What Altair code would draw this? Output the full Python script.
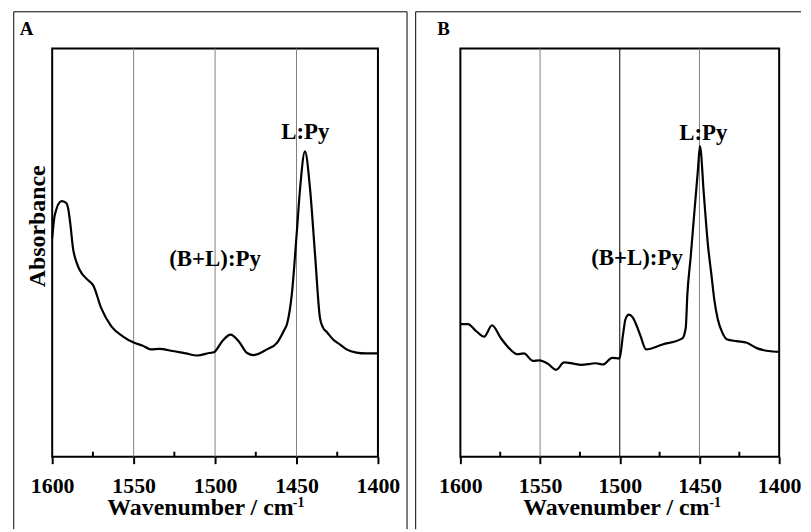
import altair as alt
import pandas as pd

# ---------------- data ----------------
wn_a = [1600, 1598.4, 1594.3, 1591.5, 1590.2, 1588.8, 1587.2, 1585.2, 1583.2, 1577.0,
        1575.0, 1569.9, 1563.8, 1556.7, 1549.6, 1544.4, 1539.4, 1534.3, 1526.1, 1518.0,
        1510.9, 1503.8, 1500.7, 1495.6, 1490.5, 1485.5, 1480.3, 1476.3, 1468.1, 1462.0,
        1458.0, 1455.7, 1452.9, 1449.8, 1447.8, 1444.8, 1441.7, 1438.6, 1435.6, 1433.8,
        1431.3, 1427.5, 1423.4, 1419.3, 1413.2, 1407.5, 1400]
abs_a = [0.535, 0.592, 0.626, 0.622, 0.608, 0.568, 0.510, 0.478, 0.458, 0.429,
         0.421, 0.364, 0.320, 0.295, 0.279, 0.272, 0.263, 0.264, 0.259, 0.253,
         0.248, 0.254, 0.256, 0.283, 0.299, 0.283, 0.254, 0.249, 0.263, 0.279,
         0.307, 0.327, 0.397, 0.551, 0.657, 0.748, 0.657, 0.494, 0.340, 0.317,
         0.305, 0.287, 0.275, 0.263, 0.255, 0.253, 0.253]

wn_b = [1600, 1595.2, 1590.2, 1585.1, 1580.1, 1574.7, 1569.5, 1564.3, 1560.2, 1554.5,
        1550.4, 1545.2, 1539.9, 1534.9, 1529.1, 1524.3, 1515.0, 1510.5, 1504.8, 1500.1,
        1498.0, 1496.4, 1494.3, 1492.0, 1489.7, 1487.0, 1483.5, 1473.2, 1460.7, 1458.6,
        1457.6, 1455.5, 1453.2, 1451.0, 1449.7, 1447.2, 1444.7, 1442.6, 1440.7, 1438.5,
        1436.0, 1432.9, 1426.7, 1420.3, 1414.1, 1406.8, 1400]
abs_b = [0.325, 0.325, 0.308, 0.294, 0.322, 0.291, 0.266, 0.251, 0.253, 0.235,
         0.236, 0.228, 0.213, 0.231, 0.228, 0.225, 0.229, 0.226, 0.242, 0.241,
         0.298, 0.337, 0.348, 0.342, 0.324, 0.296, 0.263, 0.275, 0.290, 0.316,
         0.397, 0.490, 0.599, 0.701, 0.761, 0.640, 0.519, 0.449, 0.385, 0.337,
         0.307, 0.288, 0.283, 0.279, 0.266, 0.259, 0.257]

tick_values = [1600, 1550, 1500, 1450, 1400]
minor_ticks = [1575, 1525, 1475, 1425]
grid_lines = [1550, 1500, 1450]
grid_colors_a = ["#808080", "#808080", "#808080"]
grid_colors_b = ["#808080", "#000000", "#808080"]

annot_labels = ["L:Py", "(B+L):Py"]
annot_wn_a = [1444.6, 1500.0]
annot_abs_a = [0.795, 0.485]
annot_wn_b = [1447.6, 1489.2]
annot_abs_b = [0.794, 0.486]

FONT = "Liberation Serif"
H = 411
PAD = {"left": 3.5, "top": 0, "right": 0, "bottom": 0}


def one(text):
    return pd.DataFrame({"t": [text]})


def panel(wn, ab, awn, aab, gcolors, letter, plot_w, letter_x, title_x, sup_x,
          fl, fr, show_y, right_side):
    xs = alt.Scale(domain=[1600, 1400], nice=False, zero=False)
    ys = alt.Scale(domain=[0, 1], nice=False, zero=False)
    xaxis = alt.Axis(values=tick_values, format="d", labelFlush=False, labelOverlap=False,
                     labelFont=FONT, labelFontSize=22, labelFontWeight="bold",
                     labelColor="black", labelBaseline="alphabetic", labelPadding=29,
                     tickSize=7, tickWidth=2, tickColor="black", domain=False, grid=False,
                     title="Wavenumber / cm", titleFont=FONT, titleFontSize=24,
                     titleFontWeight="bold", titleColor="black", titleX=title_x, titleY=58.5,
                     titleBaseline="alphabetic", titleAlign="center")
    if show_y:
        yaxis = alt.Axis(labels=False, ticks=False, domain=False, grid=False,
                         title="Absorbance", titleFont=FONT, titleFontSize=24,
                         titleFontWeight="bold", titleColor="black", titleAngle=270,
                         titleX=-8, titleY=178.5, titleBaseline="alphabetic",
                         titleAlign="center")
    else:
        yaxis = None
    X = alt.X("wn:Q", scale=xs, axis=xaxis)

    base1 = alt.Chart(one("f"))
    frames = [
        base1.mark_rule(color="black", strokeWidth=1).encode(
            x=alt.value(fl), y=alt.value(-37), y2=alt.value(484)),
        base1.mark_rule(color="black", strokeWidth=1).encode(
            x=alt.value(fl), x2=alt.value(fr), y=alt.value(-37)),
    ]
    if right_side:
        frames.append(base1.mark_rule(color="black", strokeWidth=1).encode(
            x=alt.value(fr), y=alt.value(-37), y2=alt.value(484)))

    grid = alt.Chart(pd.DataFrame({"wn": grid_lines, "c": gcolors})).mark_rule(
        strokeWidth=1).encode(x=X, y=alt.value(0), y2=alt.value(H),
                              color=alt.Color("c:N", scale=None))
    minor = alt.Chart(pd.DataFrame({"wn": minor_ticks})).mark_rule(
        strokeWidth=2, color="black").encode(x=X, y=alt.value(H - 5), y2=alt.value(H))
    line = alt.Chart(pd.DataFrame({"wn": wn, "a": ab})).mark_line(
        color="black", strokeWidth=2.2, interpolate="monotone").encode(
        x=X, y=alt.Y("a:Q", scale=ys, axis=yaxis))
    ann = alt.Chart(pd.DataFrame({"wn": awn, "a": aab, "t": annot_labels})).mark_text(
        font=FONT, fontSize=23, fontWeight="bold", color="black",
        align="center", baseline="middle").encode(
        x=X, y=alt.Y("a:Q", scale=ys, axis=yaxis), text="t:N")
    sup = alt.Chart(one("-1")).mark_text(
        font=FONT, fontSize=14, fontWeight="bold", color="black",
        align="left", baseline="alphabetic").encode(
        x=alt.value(sup_x), y=alt.value(H + 51), text="t:N")
    let = alt.Chart(one(letter)).mark_text(
        font=FONT, fontSize=19, fontWeight="bold", color="black",
        align="left", baseline="alphabetic").encode(
        x=alt.value(letter_x), y=alt.value(-13.5), text="t:N")

    return alt.layer(*frames, grid, minor, line, ann, sup, let).properties(
        width=plot_w, height=H)


pa = panel(wn_a, abs_a, annot_wn_a, annot_abs_a, grid_colors_a, "A", 328,
           -32.7, 148.8, 242.3, -38.7, 357.3, True, True)
pb = panel(wn_b, abs_b, annot_wn_b, annot_abs_b, grid_colors_b, "B", 321,
           -23.3, 156.5, 250.7, -45, 343, False, False)

chart = alt.hconcat(pa, pb, spacing=5).properties(
    padding=PAD,
    autosize=alt.AutoSizeParams(type="pad"),
).configure_view(stroke="black", strokeWidth=2)

chart.save("out.html", embed_options={"renderer": "svg", "actions": False})
